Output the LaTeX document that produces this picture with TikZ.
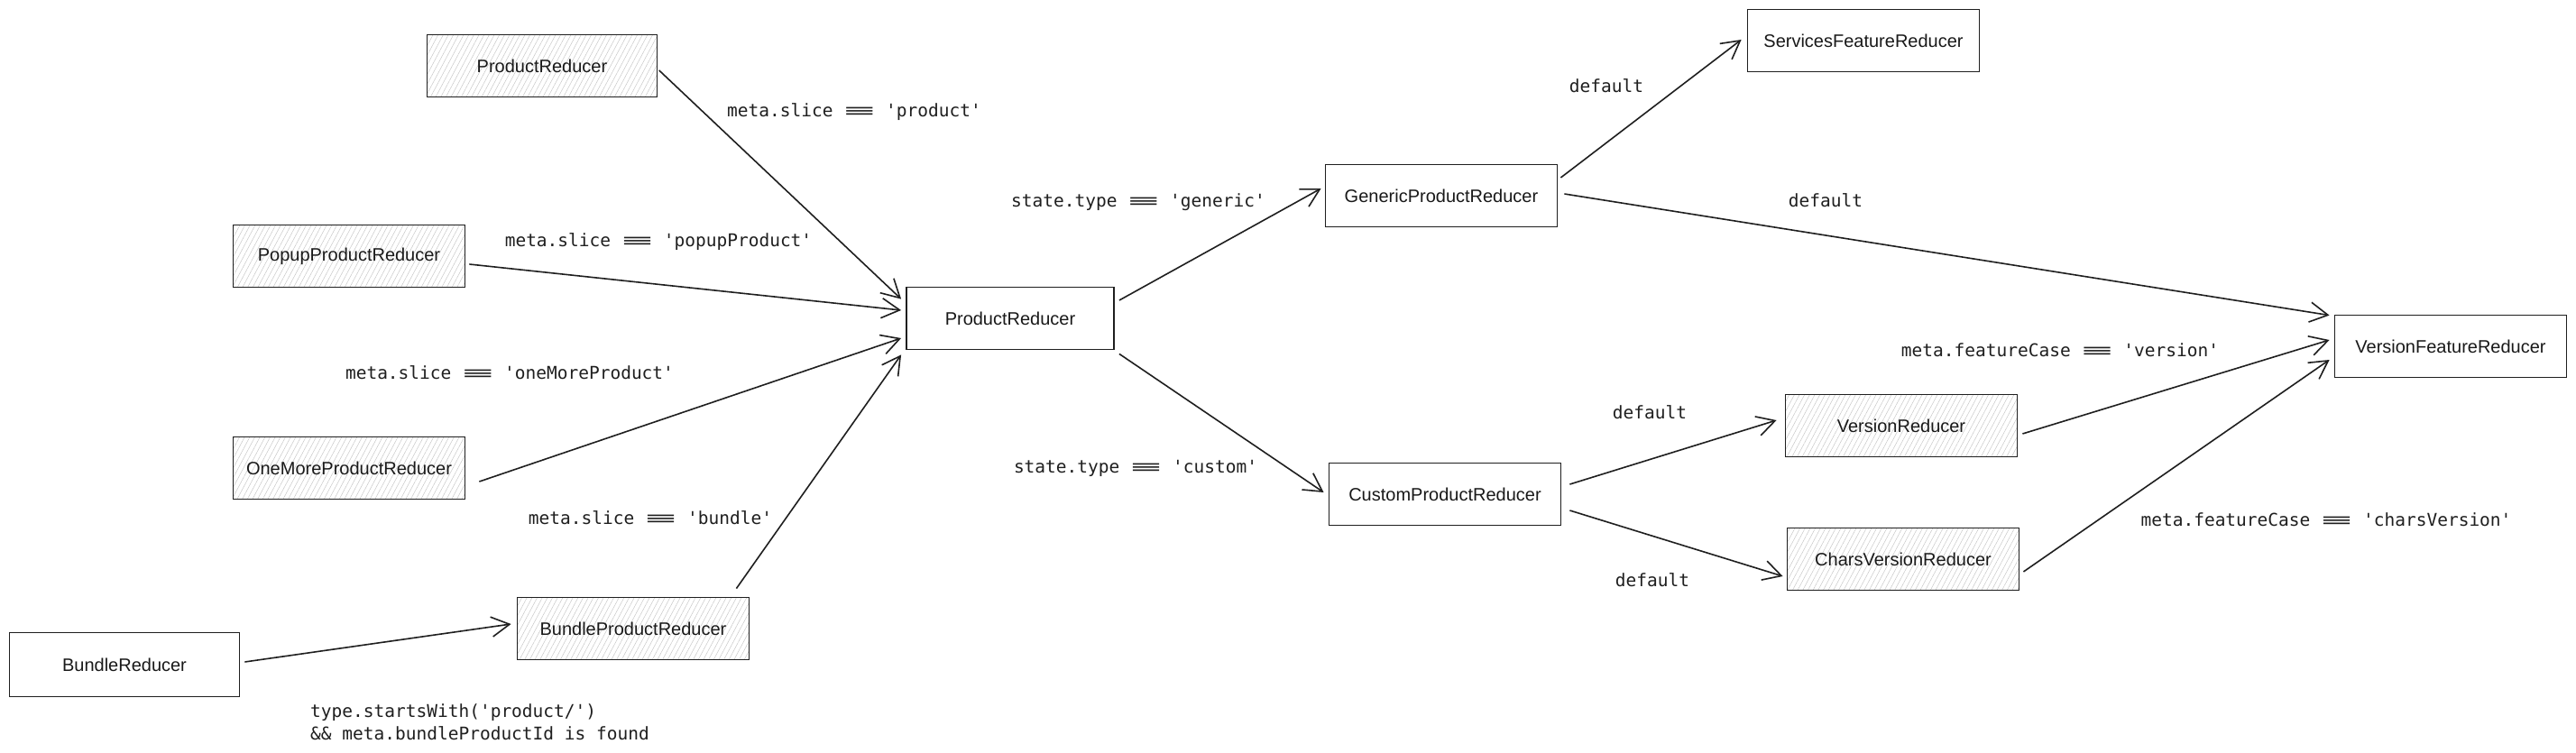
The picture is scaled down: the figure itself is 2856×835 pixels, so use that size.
\documentclass[tikz,border=0pt]{standalone}
\usepackage{fontspec}
\usepackage{graphicx}
\setmainfont{Liberation Sans}
\setmonofont{DejaVu Sans Mono}
\usetikzlibrary{arrows.meta,patterns.meta,calc}
\newcommand{\eqq}{\makebox[1.806em]{\scalebox{2.9}[1]{≡}}}
\begin{document}
\begin{tikzpicture}[x=1pt,y=-1pt,
 box/.style={draw=black!88, line width=1.8pt, minimum width=257pt, minimum height=69pt, inner sep=0pt, text=black!90, font=\fontsize{20}{24}\selectfont},
 hatched/.style={box, pattern={Lines[angle=62,distance=5pt,line width=0.5pt]}, pattern color=black!22},
 lbl/.style={font=\ttfamily\fontsize{19.5}{25}\selectfont, inner sep=0pt, text=black!88},
 arr/.style={draw=black!88, line width=1.6pt, -{Straight Barb[length=20pt,width=22pt,line width=1.6pt]}},
]
\useasboundingbox (0,0) rectangle (2856,835);
% nodes
\node[hatched, minimum width=255pt] (tpr) at (601,73) {ProductReducer};
\node[hatched] (pop) at (387,284) {PopupProductReducer};
\node[hatched] (om) at (387,519) {OneMoreProductReducer};
\node[box, minimum width=255pt, minimum height=71pt] (br) at (138,737) {BundleReducer};
\node[hatched] (bp) at (702,697) {BundleProductReducer};
\node[box, minimum width=230pt] (cpr) at (1120,353) {ProductReducer};
\node[box] (gen) at (1598,217) {GenericProductReducer};
\node[box] (cus) at (1602,548) {CustomProductReducer};
\node[box] (svc) at (2066,45) {ServicesFeatureReducer};
\node[hatched] (ver) at (2108,472) {VersionReducer};
\node[hatched] (cv) at (2110,620) {CharsVersionReducer};
\node[box] (vf) at (2717,384) {VersionFeatureReducer};
% labels
\node[lbl] (l1) at (947,124) {meta.slice \eqq{} 'product'};
\node[lbl] (l2) at (730,268) {meta.slice \eqq{} 'popupProduct'};
\node[lbl] (l3) at (565,413) {meta.slice \eqq{} 'oneMoreProduct'};
\node[lbl] (l4) at (721,574) {meta.slice \eqq{} 'bundle'};
\node[lbl, anchor=west, align=left] (l5) at (344,801) {type.startsWith('product/')\\\&\& meta.bundleProductId is found};
\node[lbl] (l6) at (1262,224) {state.type \eqq{} 'generic'};
\node[lbl] (l7) at (1259,519) {state.type \eqq{} 'custom'};
\node[lbl] (l8) at (1781,95) {default};
\node[lbl] (l9) at (2024,222) {default};
\node[lbl] (l10) at (1829,457) {default};
\node[lbl] (l11) at (1832,643) {default};
\node[lbl] (l12) at (2284,388) {meta.featureCase \eqq{} 'version'};
\node[lbl] (l13) at (2579,576) {meta.featureCase \eqq{} 'charsVersion'};
% connectors
\draw[arr] ($(tpr.east)+(2,5)$) -- ($(cpr.north west)+(-5,14)$);
\draw[arr] ($(pop.east)+(4,9)$) -- ($(cpr.west)+(-5,-9)$);
\draw[arr] ($(om.east)+(15,15)$) -- ($(cpr.west)+(-5,22)$);
\draw[arr] ($(bp.north east)+(-15,-9)$) -- ($(cpr.south west)+(-5,5)$);
\draw[arr] ($(br.east)+(5,-3)$) -- ($(bp.west)+(-6,-5)$);
\draw[arr] ($(cpr.east)+(5,-20)$) -- ($(gen.west)+(-4,-8)$);
\draw[arr] ($(cpr.south east)+(5,4)$) -- ($(cus.west)+(-5,-2)$);
\draw[arr] ($(gen.east)+(3,-20)$) -- ($(svc.west)+(-6,-1)$);
\draw[arr] ($(gen.east)+(7,-2)$) -- ($(vf.north west)+(-5,1)$);
\draw[arr] ($(cus.east)+(9,-11)$) -- ($(ver.west)+(-9,-6)$);
\draw[arr] ($(cus.east)+(9,18)$) -- ($(cv.west)+(-4,19)$);
\draw[arr] ($(ver.east)+(5,9)$) -- ($(vf.west)+(-5,-7)$);
\draw[arr] ($(cv.east)+(4,14)$) -- ($(vf.west)+(-5,15)$);
\end{tikzpicture}
\end{document}
